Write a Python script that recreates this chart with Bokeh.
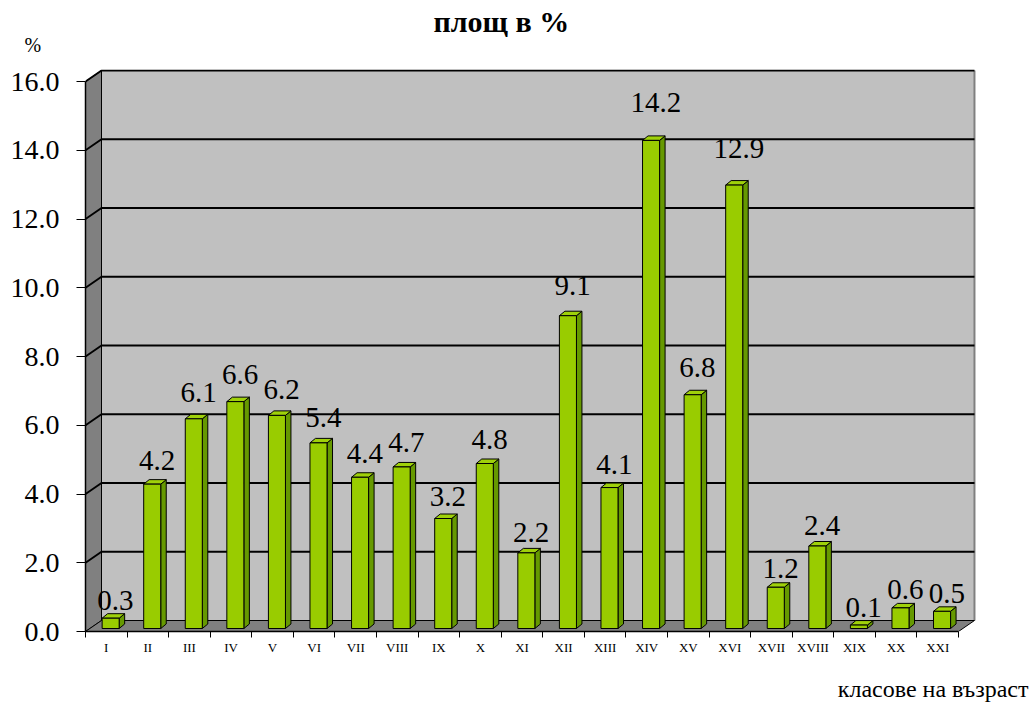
from bokeh.plotting import figure
from bokeh.models import Range1d, FixedTicker, PrintfTickFormatter, Title, ColumnDataSource
from bokeh.core.properties import value
from bokeh.embed import file_html
from bokeh.resources import INLINE

# ---- data ----
categories = ["I", "II", "III", "IV", "V", "VI", "VII", "VIII", "IX", "X", "XI",
              "XII", "XIII", "XIV", "XV", "XVI", "XVII", "XVIII", "XIX", "XX", "XXI"]
values = [0.3, 4.2, 6.1, 6.6, 6.2, 5.4, 4.4, 4.7, 3.2, 4.8, 2.2,
          9.1, 4.1, 14.2, 6.8, 12.9, 1.2, 2.4, 0.1, 0.6, 0.5]
y_ticks = [0, 2, 4, 6, 8, 10, 12, 14, 16]
title_text = "площ в %"
y_unit_text = "%"
x_title_text = "класове на възраст"

# ---- layout ----
W, H = 1030, 703
ML, MR, MT, MB = 85, 53, 69, 72
n = len(categories)
ymax = y_ticks[-1]
frame_w = W - ML - MR
frame_h = H - MT - MB
x_end = frame_w / 41.57
y_end = ymax + 0.35
px_x = frame_w / x_end
px_y = frame_h / y_end
dx = 16 / px_x          # wall depth
dy = 11 / px_y
bar_l, bar_r = 0.40, 0.81
bx = 5.5 / px_x         # bar depth
by = 4.5 / px_y
b0 = 3 / px_y

SERIF = "Liberation Serif"
FRONT = "#99CC00"
SIDE = "#669900"
TOP = "#9FD10A"

p = figure(width=W, height=H, x_range=Range1d(0, x_end), y_range=Range1d(0, y_end),
           output_backend="svg", toolbar_location=None, title=None,
           min_border_left=ML, min_border_right=MR, min_border_top=MT, min_border_bottom=MB)
p.outline_line_color = None
p.grid.visible = False
p.background_fill_color = "white"
p.border_fill_color = "white"

# back wall
p.quad(left=[dx], right=[n + dx], bottom=[dy], top=[ymax + dy],
       fill_color="#C0C0C0", line_color=None)
p.line([n + dx, n + dx], [dy, ymax + dy], line_color="#808080", line_width=2)
# left wall
p.patch([0, dx, dx, 0], [0, dy, ymax + dy, ymax], fill_color="#808080",
        line_color="black", line_width=1)
# floor
p.patch([0, n, n + dx, dx], [0, 0, dy, dy], fill_color="#808080",
        line_color="black", line_width=1)
# gridlines
gx = [[0, dx, n + dx] for v in y_ticks if v > 0]
gy = [[v, v + dy, v + dy] for v in y_ticks if v > 0]
p.multi_line(gx, gy, line_color="black", line_width=2)

# bars
idx = list(range(n))
side_xs, side_ys, top_xs, top_ys = [], [], [], []
for i, v in zip(idx, values):
    r = i + bar_r
    l = i + bar_l
    side_xs.append([r, r + bx, r + bx, r])
    side_ys.append([b0, b0 + by, v + b0 + by, v + b0])
    top_xs.append([l, r, r + bx, l + bx])
    top_ys.append([v + b0, v + b0, v + b0 + by, v + b0 + by])
p.patches(side_xs, side_ys, fill_color=SIDE, line_color="black", line_width=1)
p.patches(top_xs, top_ys, fill_color=TOP, line_color="black", line_width=1)
src = ColumnDataSource(dict(
    left=[i + bar_l for i in idx], right=[i + bar_r for i in idx],
    bottom=[b0] * n, top=[v + b0 for v in values],
    lx=[i + 0.72 for i in idx],
    ly=[v + b0 + (17 + 1.5 * v) / px_y for v in values],
    lab=[f"{v:.1f}" for v in values]))
p.quad(left="left", right="right", bottom="bottom", top="top", source=src,
       fill_color=FRONT, line_color="black", line_width=1)
p.text(x="lx", y="ly", text="lab", source=src, text_font=value(SERIF),
       text_font_size="29px", text_align="center", text_baseline="alphabetic",
       text_color="black")

# y axis
ya = p.yaxis[0]
ya.ticker = FixedTicker(ticks=y_ticks)
ya.formatter = PrintfTickFormatter(format="%.1f")
ya.bounds = (0, ymax)
ya.axis_line_color = "black"
ya.axis_line_width = 1.5
ya.major_tick_out = 9
ya.major_tick_in = 0
ya.major_tick_line_color = "black"
ya.minor_tick_line_color = None
ya.major_label_text_font = SERIF
ya.major_label_text_font_size = "28px"
ya.major_label_text_color = "black"
ya.major_label_standoff = 17

# x axis
xa = p.xaxis[0]
centers = [i + 0.5 for i in idx]
xa.ticker = FixedTicker(ticks=centers, minor_ticks=list(range(n + 1)))
xa.major_label_overrides = {c: name for c, name in zip(centers, categories)}
xa.bounds = (0, n)
xa.axis_line_color = "black"
xa.axis_line_width = 1.5
xa.major_tick_out = 0
xa.major_tick_in = 0
xa.minor_tick_out = 6
xa.minor_tick_in = 0
xa.minor_tick_line_color = "black"
xa.major_label_text_font = SERIF
xa.major_label_text_font_size = "13px"
xa.major_label_text_color = "black"
xa.major_label_standoff = 2

# texts (titles in side panels)
t_pct = Title(text=y_unit_text, align="left", offset=-61, vertical_align="top",
              standoff=24, text_font=SERIF, text_font_size="20px",
              text_font_style="normal", text_color="black")
t_main = Title(text=title_text, align="left", offset=348, vertical_align="bottom",
               standoff=-33, text_font=SERIF, text_font_size="30px",
               text_font_style="bold", text_color="black")
t_x = Title(text=x_title_text, align="right", offset=-51, vertical_align="bottom",
            standoff=0, padding=dict(left=0, right=0, top=16, bottom=0),
            text_font=SERIF, text_font_size="24px",
            text_font_style="normal", text_color="black")
p.add_layout(t_pct, "above")
p.add_layout(t_main, "above")
p.add_layout(t_x, "below")

open("out.html", "w").write(file_html(p, INLINE))
